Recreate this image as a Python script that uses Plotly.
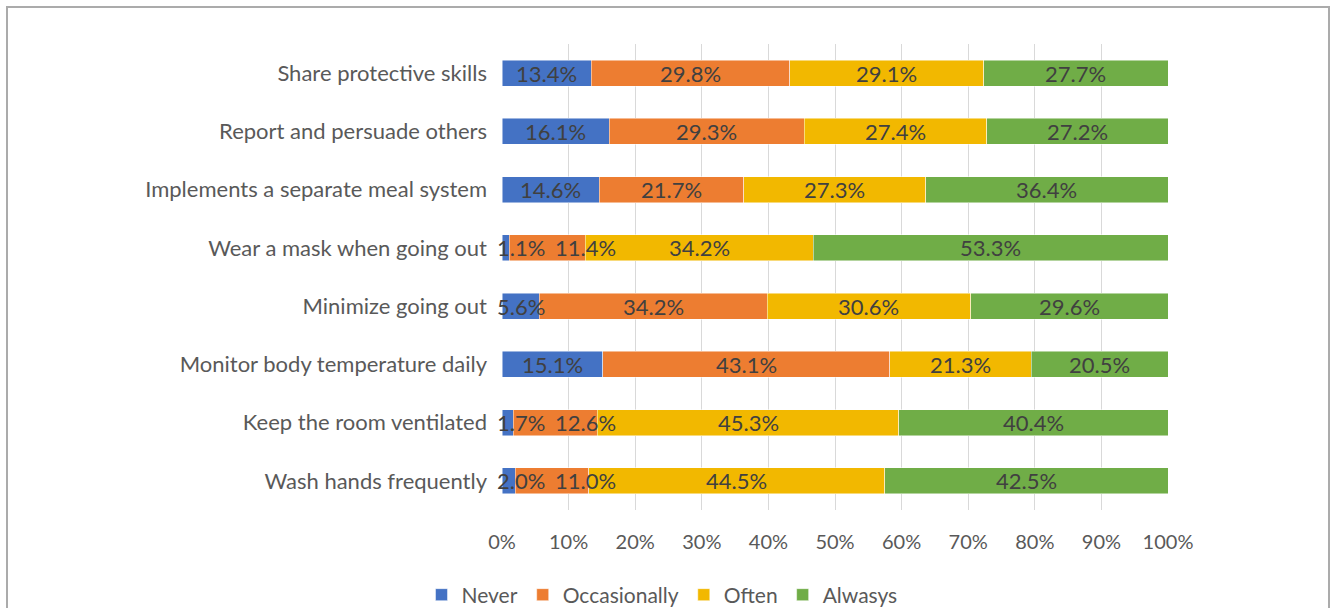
import plotly.graph_objects as go

# Protective behaviours, listed top to bottom as they appear on the chart
behaviours = [
    "Share protective skills",
    "Report and persuade others",
    "Implements a separate meal system",
    "Wear a mask when going out",
    "Minimize going out",
    "Monitor body temperature daily",
    "Keep the room ventilated",
    "Wash hands frequently",
]

# Share of respondents (%) per response level
never = [13.4, 16.1, 14.6, 1.1, 5.6, 15.1, 1.7, 2.0]
occasionally = [29.8, 29.3, 21.7, 11.4, 34.2, 43.1, 12.6, 11.0]
often = [29.1, 27.4, 27.3, 34.2, 30.6, 21.3, 45.3, 44.5]
always = [27.7, 27.2, 36.4, 53.3, 29.6, 20.5, 40.4, 42.5]

series_names = ["Never", "Occasionally", "Often", "Alwasys"]
series_values = [never, occasionally, often, always]
series_colors = ["#4472C4", "#ED7D31", "#F2B800", "#70AD47"]

x_ticks = list(range(0, 101, 10))
x_tick_labels = [f"{t}%" for t in x_ticks]

FONT = "Lato"
LABEL_SIZE = 22
W, H = 1330, 608
L, R, T, B = 502, 162, 44, 98
pw, ph = W - L - R, H - T - B
px_per_unit = pw / 100.0


def px(x):
    return (x - L) / pw


def py(y):
    return (H - B - y) / ph


fig = go.Figure()
for name, vals, col in zip(series_names, series_values, series_colors):
    fig.add_trace(go.Bar(
        y=behaviours,
        x=vals,
        name=name,
        orientation="h",
        marker=dict(color=col, line=dict(color="rgba(255,255,255,0.6)", width=0.8)),
        hoverinfo="skip",
    ))

# Value labels: centred on each segment, nudged right when a narrow
# segment's label would collide with the one before it.
char_px = 12.4
gap_units = 1.2
annotations = []
for i, cat in enumerate(behaviours):
    start = 0.0
    prev_right = -0.8 - gap_units
    for vals in series_values:
        v = vals[i]
        label = f"{v:.1f}%"
        half = len(label) * char_px / 2 / px_per_unit
        cx = start + v / 2
        cx = max(cx, prev_right + gap_units + half)
        prev_right = cx + half
        annotations.append(dict(
            x=cx, y=cat, xref="x", yref="y",
            text=label, showarrow=False,
            xanchor="center", yanchor="middle",
            font=dict(family=FONT, size=LABEL_SIZE, color="#404040"),
        ))
        start += v

# frame around the whole chart
fig.add_shape(type="rect", xref="paper", yref="paper",
              x0=px(7), x1=px(1329), y0=py(7), y1=py(620),
              line=dict(color="#ABABAB", width=2), fillcolor="rgba(0,0,0,0)",
              layer="below")

fig.update_layout(
    width=W, height=H,
    barmode="stack",
    bargap=0.55,
    margin=dict(l=L, r=R, t=T, b=B, autoexpand=False),
    paper_bgcolor="white",
    plot_bgcolor="white",
    font=dict(family=FONT, color="#595959"),
    annotations=annotations,
    showlegend=True,
    legend=dict(
        orientation="h",
        x=px(662), xanchor="center",
        y=py(595), yanchor="middle",
        font=dict(family=FONT, size=21, color="#595959"),
        itemwidth=30,
        traceorder="normal",
    ),
    xaxis=dict(
        range=[0, 100],
        tickvals=x_ticks,
        ticktext=x_tick_labels,
        showgrid=True,
        gridcolor="#D9D9D9",
        gridwidth=1,
        zeroline=False,
        showline=False,
        ticks="",
        tickfont=dict(family=FONT, size=20, color="#595959"),
        ticklabelstandoff=18,
        fixedrange=True,
    ),
    yaxis=dict(
        categoryorder="array",
        categoryarray=behaviours[::-1],
        showgrid=False,
        zeroline=False,
        showline=False,
        ticks="",
        tickfont=dict(family=FONT, size=22, color="#595959"),
        ticklabelstandoff=14,
        fixedrange=True,
    ),
)

fig.write_html("out.html")
